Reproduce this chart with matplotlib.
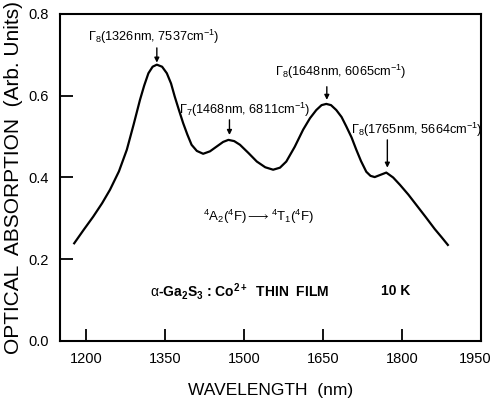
import matplotlib
matplotlib.use('Agg')
import matplotlib.pyplot as plt
import matplotlib.transforms as mtransforms

plt.rcParams['font.family'] = ['Liberation Sans', 'DejaVu Sans']
plt.rcParams['mathtext.fontset'] = 'custom'
plt.rcParams['mathtext.rm'] = 'Liberation Sans'
plt.rcParams['mathtext.it'] = 'Liberation Sans'
plt.rcParams['mathtext.bf'] = 'Liberation Sans:bold'

# absorption spectrum
wavelength = [1177, 1195, 1213, 1230, 1245, 1262, 1277, 1290, 1302, 1310, 1318, 1326, 1334,
              1344, 1353, 1361, 1368, 1376, 1384, 1392, 1400, 1410, 1422, 1435, 1448, 1460, 1470,
              1481, 1492, 1508, 1524, 1540, 1555, 1568, 1580, 1596, 1612, 1625, 1637, 1647, 1656,
              1665, 1675, 1685, 1694, 1704, 1713, 1722, 1732, 1740, 1748, 1760, 1770, 1783,
              1796, 1812, 1827, 1845, 1862, 1875, 1887]
absorption = [0.239, 0.272, 0.304, 0.337, 0.370, 0.415, 0.468, 0.530, 0.590, 0.625, 0.655, 0.671, 0.676,
              0.671, 0.655, 0.630, 0.598, 0.565, 0.533, 0.505, 0.480, 0.465, 0.458, 0.464, 0.476, 0.487, 0.492,
              0.489, 0.480, 0.460, 0.439, 0.425, 0.419, 0.424, 0.439, 0.475, 0.517, 0.545, 0.565, 0.577, 0.580,
              0.577, 0.565, 0.548, 0.525, 0.498, 0.468, 0.440, 0.414, 0.404, 0.401, 0.407, 0.412, 0.400,
              0.382, 0.358, 0.333, 0.303, 0.274, 0.254, 0.235]

# marked peaks
peak_x = [1334, 1472, 1657, 1772]
peak_labels = [r'$\Gamma_8$(1326nm, 7537cm$^{-1}$)',
               r'$\Gamma_7$(1468nm, 6811cm$^{-1}$)',
               r'$\Gamma_8$(1648nm, 6065cm$^{-1}$)',
               r'$\Gamma_8$(1765nm, 5664cm$^{-1}$)']

fig = plt.figure(figsize=(4.93, 4.09), dpi=100)
ax = fig.add_axes([0.1217, 0.1663, 0.8540, 0.7995])

ax.plot(wavelength, absorption, color='black', linewidth=1.6)

# arrows and labels above the peaks
arrow_top = [0.717, 0.541, 0.622, 0.492]
arrow_tip = [0.681, 0.504, 0.590, 0.424]
label_x = [1329, 1501, 1683, 1827]
label_y = [0.744, 0.565, 0.659, 0.517]
for px, at, tip, lx, ly, lab in zip(peak_x, arrow_top, arrow_tip, label_x, label_y, peak_labels):
    ax.annotate('', xy=(px, tip), xytext=(px, at),
                arrowprops=dict(arrowstyle='-|>', color='black', lw=1.0, mutation_scale=7,
                                shrinkA=0, shrinkB=0))
    ax.text(lx, ly, lab, ha='center', va='center', fontsize=9.2)

ax.text(1528, 0.303, r'$^4$A$_2$($^4$F)$\longrightarrow$$^4$T$_1$($^4$F)', ha='center', va='center', fontsize=9.5)
ax.text(1492, 0.122, r'$\alpha$-Ga$_\mathbf{2}$S$_\mathbf{3}$ : Co$^\mathbf{2+}$  THIN  FILM',
        ha='center', va='center', fontsize=10, fontweight='bold')
ax.text(1788, 0.122, '10 K', ha='center', va='center', fontsize=10, fontweight='bold')

ax.set_xlim(1150, 1950)
ax.set_ylim(0, 0.8)
ax.set_xticks([1200, 1350, 1500, 1650, 1800, 1950])
ax.set_yticks([0.0, 0.2, 0.4, 0.6, 0.8])
ax.set_yticklabels(['0.0', '0.2', '0.4', '0.6', '0.8'])
ax.tick_params(direction='in', length=9, width=1.3, labelsize=10.5, pad=8)
for s in ax.spines.values():
    s.set_linewidth(1.5)

# keep the last x tick label inside the figure
last = ax.get_xticklabels()[-1]
last.set_transform(last.get_transform() + mtransforms.ScaledTranslation(-6 / 100, 0, fig.dpi_scale_trans))

ax.set_xlabel('WAVELENGTH  (nm)', fontsize=12.5, labelpad=12)
ax.set_ylabel('OPTICAL  ABSORPTION  (Arb. Units)', fontsize=15, labelpad=4)

plt.savefig('out.png', dpi=100)
